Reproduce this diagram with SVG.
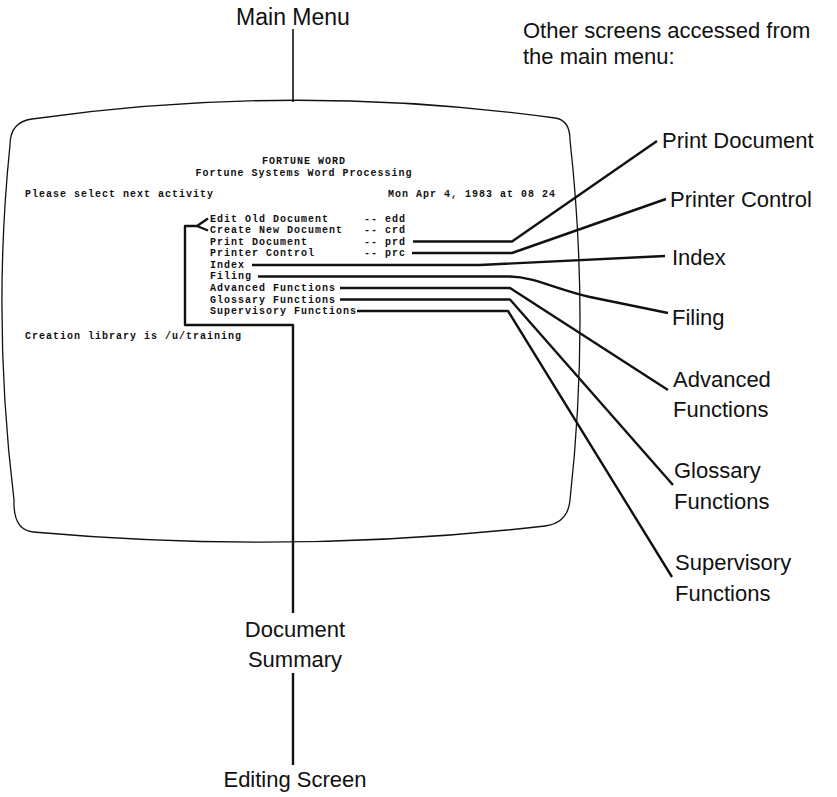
<svg xmlns="http://www.w3.org/2000/svg" width="837" height="797" viewBox="0 0 837 797">
<style>
.lbl{font-family:"Liberation Sans",Arial,sans-serif;font-size:22px;fill:#111}
.mono{font-family:"Liberation Mono","Courier New",monospace;font-size:10px;font-weight:bold;letter-spacing:1px;fill:#111}
.conn{fill:none;stroke:#111;stroke-width:2.4;stroke-linejoin:round}
.thin{fill:none;stroke:#111;stroke-width:1.6}
.screen{fill:none;stroke:#111;stroke-width:1.3}
</style>
<rect width="837" height="797" fill="#fff"/>

<g id="screen">
<path class="screen" d="M32,119 Q293,82 555,118 Q570,120 570,140 Q590,320 570,500 Q568,523 545,526 Q293,555 33,532 Q13,530 14,500 Q-8,320 10,145 Q10,122 32,119 Z"/>
<text class="mono" x="304" y="164" text-anchor="middle">FORTUNE WORD</text>
<text class="mono" x="304" y="175.5" text-anchor="middle">Fortune Systems Word Processing</text>
<text class="mono" x="25" y="197">Please select next activity</text>
<text class="mono" x="388" y="197">Mon Apr 4, 1983 at 08 24</text>
<text class="mono" x="210" y="221.5">Edit Old Document</text>
<text class="mono" x="364" y="221.5">-- edd</text>
<text class="mono" x="210" y="233">Create New Document</text>
<text class="mono" x="364" y="233">-- crd</text>
<text class="mono" x="210" y="244.6">Print Document</text>
<text class="mono" x="364" y="244.6">-- prd</text>
<text class="mono" x="210" y="256.2">Printer Control</text>
<text class="mono" x="364" y="256.2">-- prc</text>
<text class="mono" x="210" y="267.8">Index</text>
<text class="mono" x="210" y="279.4">Filing</text>
<text class="mono" x="210" y="291">Advanced Functions</text>
<text class="mono" x="210" y="302.6">Glossary Functions</text>
<text class="mono" x="210" y="314.2">Supervisory Functions</text>
<text class="mono" x="25" y="338.5">Creation library is /u/training</text>
</g>

<g id="main-menu">
<text class="lbl" x="293" y="25" text-anchor="middle" style="font-size:23px">Main Menu</text>
</g>
<g id="other-screens-note">
<text class="lbl" x="523" y="38">Other screens accessed from</text>
<text class="lbl" x="523" y="64">the main menu:</text>
</g>
<g id="print-document"><text class="lbl" x="662" y="148">Print Document</text></g>
<g id="printer-control"><text class="lbl" x="670" y="207">Printer Control</text></g>
<g id="index"><text class="lbl" x="672" y="265">Index</text></g>
<g id="filing"><text class="lbl" x="672" y="325">Filing</text></g>
<g id="advanced-functions"><text class="lbl" x="673" y="387">Advanced</text><text class="lbl" x="673" y="417">Functions</text></g>
<g id="glossary-functions"><text class="lbl" x="674" y="478">Glossary</text><text class="lbl" x="674" y="509">Functions</text></g>
<g id="supervisory-functions"><text class="lbl" x="675" y="570">Supervisory</text><text class="lbl" x="675" y="601">Functions</text></g>
<g id="document-summary"><text class="lbl" x="295" y="637" text-anchor="middle">Document</text><text class="lbl" x="295" y="667" text-anchor="middle">Summary</text></g>
<g id="editing-screen"><text class="lbl" x="295" y="787" text-anchor="middle">Editing Screen</text></g>

<g id="connectors">
<path class="thin" d="M293,29 V102"/>
<path class="conn" d="M208,218.5 L197,226 L208,230.5 M197,226 H185 V325 H293 V613"/>
<path class="conn" d="M293,673 V765"/>
<path class="conn" d="M413,241.5 H512 L657,141"/>
<path class="conn" d="M412,253 H512 L666,199"/>
<path class="conn" d="M252,265 H480 L665,256"/>
<path class="conn" d="M258,276.5 H510 C535,277 555,289 590,297 L668,313"/>
<path class="conn" d="M340,288 H510 L668,390"/>
<path class="conn" d="M340,299.5 H510 L673,485"/>
<path class="conn" d="M357,311 H508 L672,577"/>
</g>
</svg>
